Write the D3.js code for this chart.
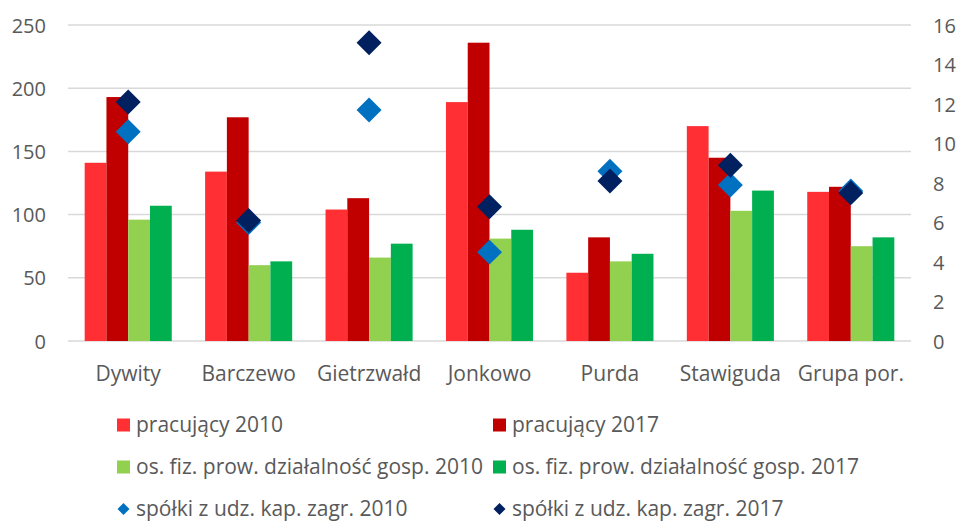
<!DOCTYPE html>
<html>
<head>
<meta charset="utf-8">
<script src="https://cdn.jsdelivr.net/npm/d3@7"></script>
<style>
  body { margin: 0; background: #fff; }
  svg text { font-family: "Open Sans", sans-serif; fill: #595959; }
</style>
</head>
<body>
<svg id="chart"></svg>
<script>
// categories and series
var categories = ["Dywity", "Barczewo", "Gietrzwałd", "Jonkowo", "Purda", "Stawiguda", "Grupa por."]
var pracujacy2010 = [141, 134, 104, 189, 54, 170, 118]
var pracujacy2017 = [193, 177, 113, 236, 82, 145, 122]
var osFiz2010 = [96, 60, 66, 81, 63, 103, 75]
var osFiz2017 = [107, 63, 77, 88, 69, 119, 82]
var spolki2010 = [10.6, 6.0, 11.7, 4.5, 8.6, 7.9, 7.6]
var spolki2017 = [12.1, 6.1, 15.1, 6.8, 8.1, 8.9, 7.5]
var leftTicks = [0, 50, 100, 150, 200, 250]
var rightTicks = [0, 2, 4, 6, 8, 10, 12, 14, 16]

var barSeries = [
  { name: "pracujący 2010", values: pracujacy2010, color: "#ff2f33" },
  { name: "pracujący 2017", values: pracujacy2017, color: "#c00000" },
  { name: "os. fiz. prow. działalność gosp. 2010", values: osFiz2010, color: "#92d050" },
  { name: "os. fiz. prow. działalność gosp. 2017", values: osFiz2017, color: "#00b050" }
]
var pointSeries = [
  { name: "spółki z udz. kap. zagr. 2010", values: spolki2010, color: "#0070c0" },
  { name: "spółki z udz. kap. zagr. 2017", values: spolki2017, color: "#002060" }
]

var width = 960, height = 527
var plot = { left: 68, right: 911, top: 25, bottom: 341 }

var svg = d3.select('#chart')
    .attr('width', width)
    .attr('height', height)

var x0 = d3.scaleBand()
    .domain(categories)
    .range([plot.left, plot.right])
    .paddingInner(0.277)
    .paddingOuter(0.1385)

var x1 = d3.scaleBand()
    .domain(d3.range(barSeries.length))
    .range([0, x0.bandwidth()])

var yLeft = d3.scaleLinear().domain([0, 250]).range([plot.bottom, plot.top])
var yRight = d3.scaleLinear().domain([0, 16]).range([plot.bottom, plot.top])

// gridlines
svg.append('g')
    .selectAll('line')
    .data(leftTicks)
    .join('line')
    .attr('x1', plot.left)
    .attr('x2', plot.right)
    .attr('y1', d => yLeft(d))
    .attr('y2', d => yLeft(d))
    .attr('stroke', '#d9d9d9')
    .attr('stroke-width', 1.5)

// left axis
var leftAxis = svg.append('g')
    .attr('transform', 'translate(' + (plot.left - 22) + ',0)')
    .call(d3.axisLeft(yLeft).tickValues(leftTicks).tickSize(0).tickPadding(0))
leftAxis.select('.domain').remove()
leftAxis.selectAll('text')
    .style('font-size', '20px')
    .attr('fill', '#595959')
    .attr('dy', '0.35em')

// right axis
var rightAxis = svg.append('g')
    .attr('transform', 'translate(' + (plot.right + 22) + ',0)')
    .call(d3.axisRight(yRight).tickValues(rightTicks).tickSize(0).tickPadding(0))
rightAxis.select('.domain').remove()
rightAxis.selectAll('text')
    .style('font-size', '20px')
    .attr('fill', '#595959')
    .attr('dy', '0.35em')

// category axis
var catAxis = svg.append('g')
    .attr('transform', 'translate(0,' + plot.bottom + ')')
    .call(d3.axisBottom(x0).tickSize(0).tickPadding(25))
catAxis.select('.domain').remove()
catAxis.selectAll('text')
    .style('font-size', '21px')
    .attr('fill', '#595959')

// bars
var groups = svg.append('g')
    .selectAll('g')
    .data(categories)
    .join('g')
    .attr('transform', d => 'translate(' + x0(d) + ',0)')

groups.selectAll('rect')
    .data((c, i) => barSeries.map((s, k) => ({ k: k, value: s.values[i], color: s.color })))
    .join('rect')
    .attr('x', d => x1(d.k))
    .attr('width', x1.bandwidth())
    .attr('y', d => yLeft(d.value))
    .attr('height', d => yLeft(0) - yLeft(d.value))
    .attr('fill', d => d.color)

// diamonds
var diamond = d3.symbol().type(d3.symbolSquare).size(312)
pointSeries.forEach(function (s) {
    svg.append('g')
        .selectAll('path')
        .data(categories)
        .join('path')
        .attr('d', diamond)
        .attr('transform', (c, i) => 'translate(' + (x0(c) + x0.bandwidth() / 2) + ',' + yRight(s.values[i]) + ') rotate(45)')
        .attr('fill', s.color)
})

// legend
var legendItems = barSeries.concat(pointSeries).map((s, i) => ({
    name: s.name, color: s.color, point: i >= barSeries.length,
    col: i % 2, row: Math.floor(i / 2)
}))
var legend = svg.append('g')
    .selectAll('g')
    .data(legendItems)
    .join('g')
    .attr('transform', d => 'translate(' + (d.col ? 493 : 117) + ',' + (425 + d.row * 42) + ')')

legend.filter(d => !d.point).append('rect')
    .attr('x', 0).attr('y', -6.5)
    .attr('width', 13).attr('height', 13)
    .attr('fill', d => d.color)

legend.filter(d => d.point).append('path')
    .attr('d', d3.symbol().type(d3.symbolSquare).size(72))
    .attr('transform', 'translate(6.5,0) rotate(45)')
    .attr('fill', d => d.color)

legend.append('text')
    .attr('x', 19)
    .attr('dy', '0.35em')
    .style('font-size', '21px')
    .text(d => d.name)
</script>
</body>
</html>
